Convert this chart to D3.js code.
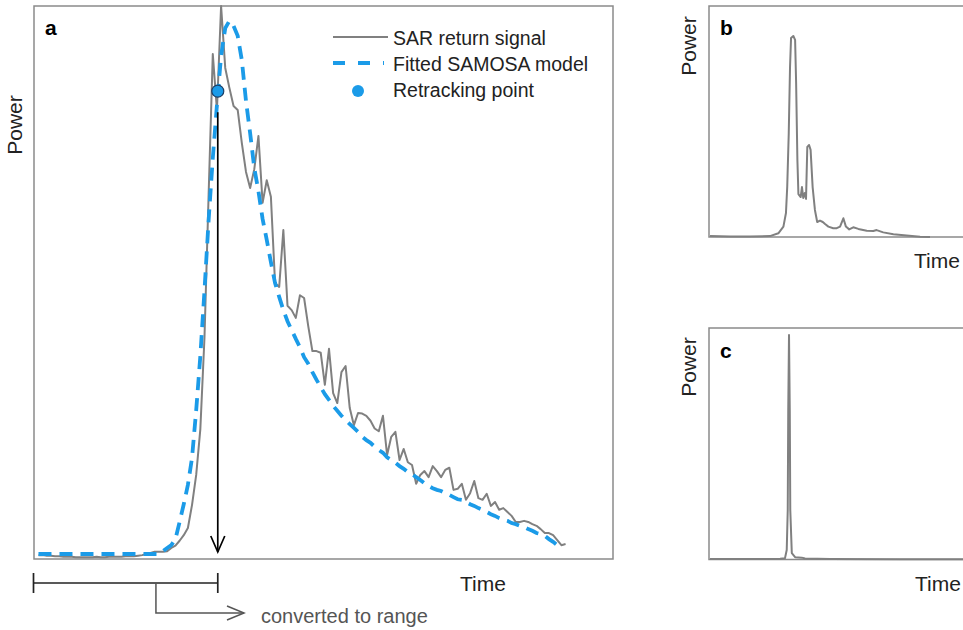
<!DOCTYPE html>
<html><head><meta charset="utf-8">
<script src="https://cdn.jsdelivr.net/npm/d3@7"></script>
<style>body{margin:0;background:#fff;} svg{display:block;font-family:"Liberation Sans",Arial,Helvetica,sans-serif;}</style>
</head><body><svg id="chart" width="963" height="630"></svg>
<script>
// ---------- Panel a: SAR waveform (128 range gates, normalised power) ----------
const sarGates = d3.range(128);
const sarPower = [
  0.007,0.007,0.006,0.006,0.005,0.005,0.004,0.004,0.004,0.003,
  0.003,0.003,0.003,0.003,0.004,0.003,0.003,0.004,0.004,0.004,
  0.004,0.005,0.005,0.005,0.006,0.007,0.009,0.011,0.013,0.013,
  0.013,0.014,0.020,0.024,0.033,0.043,0.056,0.098,0.152,0.235,
  0.401,0.660,0.913,0.812,1.000,0.888,0.852,0.819,0.812,0.752,
  0.700,0.671,0.705,0.765,0.644,0.685,0.655,0.499,0.492,0.595,
  0.458,0.450,0.436,0.477,0.472,0.421,0.376,0.376,0.373,0.315,
  0.380,0.300,0.282,0.338,0.349,0.273,0.242,0.264,0.263,0.259,
  0.250,0.236,0.231,0.259,0.188,0.221,0.230,0.179,0.199,0.175,
  0.170,0.136,0.152,0.159,0.148,0.168,0.159,0.148,0.161,0.165,
  0.125,0.127,0.136,0.107,0.119,0.141,0.110,0.107,0.118,0.096,
  0.103,0.089,0.092,0.085,0.078,0.067,0.067,0.069,0.067,0.063,
  0.060,0.054,0.047,0.047,0.043,0.034,0.025,0.027
];
const samosaGates = d3.range(126);
const samosaPower = [
  0.009,0.009,0.009,0.009,0.009,0.009,0.009,0.009,0.009,0.009,
  0.009,0.009,0.009,0.009,0.009,0.009,0.009,0.009,0.009,0.009,
  0.009,0.009,0.009,0.009,0.009,0.009,0.009,0.009,0.009,0.009,
  0.014,0.020,0.025,0.036,0.067,0.099,0.134,0.183,0.269,0.367,
  0.486,0.613,0.725,0.821,0.910,0.960,0.973,0.964,0.946,0.902,
  0.828,0.770,0.707,0.665,0.615,0.577,0.537,0.499,0.474,0.450,
  0.430,0.414,0.398,0.383,0.365,0.353,0.338,0.324,0.311,0.298,
  0.288,0.277,0.268,0.259,0.251,0.244,0.237,0.230,0.221,0.215,
  0.210,0.203,0.197,0.192,0.184,0.179,0.174,0.168,0.163,0.157,
  0.154,0.148,0.143,0.137,0.132,0.128,0.125,0.123,0.119,0.116,
  0.112,0.108,0.107,0.103,0.099,0.096,0.092,0.089,0.085,0.081,
  0.078,0.074,0.071,0.069,0.065,0.063,0.060,0.058,0.054,0.051,
  0.047,0.045,0.042,0.036,0.031,0.025
];
const retrackGate = 43.2;
const retrackPower = 0.846;
const arrowStartPower = 0.808;
const rangeElbowGate = 28.3;
const legendLabels = ["SAR return signal", "Fitted SAMOSA model", "Retracking point"];

// ---------- Panel b ----------
const bTime  = [0.4,8.3,16.1,24.0,27.3,29.3,30.3,30.8,31.4,31.9,32.3,33.2,33.9,34.3,34.8,35.2,36.1,36.6,37.1,37.7,38.2,38.7,39.4,40.0,40.8,41.7,42.6,43.7,44.8,45.7,47.0,48.9,50.3,51.6,52.9,53.9,55.2,56.8,58.8,62.1,64.7,66.0,68.6,72.6,77.8,83.1,87.0];
const bPower = [0.004,0.002,0.002,0.004,0.016,0.045,0.104,0.218,0.450,0.736,0.861,0.870,0.853,0.667,0.333,0.186,0.173,0.216,0.169,0.190,0.165,0.390,0.398,0.377,0.216,0.117,0.065,0.071,0.065,0.056,0.045,0.038,0.038,0.045,0.081,0.045,0.033,0.042,0.035,0.027,0.026,0.030,0.020,0.012,0.006,0.001,0.000];

// ---------- Panel c ----------
const cTime  = [0.4,20.1,28.0,29.9,30.6,31.0,31.2,31.5,31.8,32.0,32.6,33.9,36.5,37.8,47.6,75.2,100];
const cPower = [0.002,0.002,0.003,0.005,0.041,0.214,0.646,0.970,0.646,0.214,0.028,0.010,0.008,0.004,0.002,0.001,0.001];

const GREY = "#808080", BLUE = "#1b9be8", FRAME = "#8a8a8a";
const svg = d3.select("#chart");

// ---------- scales ----------
const xA = d3.scaleLinear().domain([-1.08, 138.43]).range([34, 613]);
const yA = d3.scaleLinear().domain([0, 1]).range([559, 6]);
const xB = d3.scaleLinear().domain([0, 100]).range([709, 963]);
const yB = d3.scaleLinear().domain([0, 1]).range([237, 6]);
const xC = d3.scaleLinear().domain([0, 100]).range([709, 963]);
const yC = d3.scaleLinear().domain([0, 1]).range([559.5, 328]);

// ---------- panel a ----------
svg.append("rect").attr("x", 34).attr("y", 6).attr("width", 579).attr("height", 553)
  .attr("fill", "none").attr("stroke", FRAME).attr("stroke-width", 1.5);

const lineA = d3.line().x(d => xA(d[0])).y(d => yA(d[1]));
svg.append("path").datum(d3.zip(sarGates, sarPower)).attr("d", lineA)
  .attr("fill", "none").attr("stroke", GREY).attr("stroke-width", 2).attr("stroke-linejoin", "round");
svg.append("path").datum(d3.zip(samosaGates, samosaPower)).attr("d", lineA)
  .attr("fill", "none").attr("stroke", BLUE).attr("stroke-width", 3.8).attr("stroke-dasharray", "13,8");

// retracking arrow
const rx = xA(retrackGate);
svg.append("line").attr("x1", rx).attr("x2", rx).attr("y1", yA(arrowStartPower)).attr("y2", 552)
  .attr("stroke", "#000").attr("stroke-width", 1.7);
svg.append("path").attr("d", `M${rx-7},536 L${rx},552 L${rx+7},536`)
  .attr("fill", "none").attr("stroke", "#000").attr("stroke-width", 1.7);
svg.append("circle").attr("cx", rx).attr("cy", yA(retrackPower)).attr("r", 6)
  .attr("fill", BLUE).attr("stroke", "#1d3f66").attr("stroke-width", 1.2);

// panel label
svg.append("text").attr("x", 45).attr("y", 35).attr("font-size", 21).attr("font-weight", "bold").text("a");

// legend
const lg = svg.append("g");
lg.append("line").attr("x1", 333).attr("x2", 388).attr("y1", 37).attr("y2", 37).attr("stroke", GREY).attr("stroke-width", 1.8);
lg.append("line").attr("x1", 333).attr("x2", 384).attr("y1", 63).attr("y2", 63).attr("stroke", BLUE).attr("stroke-width", 3.8).attr("stroke-dasharray", "12,13");
lg.append("circle").attr("cx", 358).attr("cy", 91).attr("r", 6).attr("fill", BLUE);
legendLabels.forEach((t, i) => {
  lg.append("text").attr("x", 393).attr("y", [44.5, 70.5, 97][i]).attr("font-size", 19.5).attr("fill", "#222").text(t);
});

// axis labels
svg.append("text").attr("transform", "translate(22,125) rotate(-90)").attr("text-anchor", "middle")
  .attr("font-size", 21).attr("fill", "#222").text("Power");
svg.append("text").attr("x", 483).attr("y", 591).attr("text-anchor", "middle").attr("font-size", 21).attr("fill", "#222").text("Time");

// range bar
svg.append("line").attr("x1", 33.5).attr("x2", rx).attr("y1", 583).attr("y2", 583).attr("stroke", "#222").attr("stroke-width", 1.7);
[33.5, rx].forEach(x => svg.append("line").attr("x1", x).attr("x2", x).attr("y1", 573).attr("y2", 593).attr("stroke", "#222").attr("stroke-width", 1.7));
const ex = xA(rangeElbowGate);
svg.append("path").attr("d", `M${ex},583 V613 H244`).attr("fill", "none").attr("stroke", "#555").attr("stroke-width", 1.5);
svg.append("path").attr("d", `M227,606 L244,613 L227,620`).attr("fill", "none").attr("stroke", "#555").attr("stroke-width", 1.5);
svg.append("text").attr("x", 261).attr("y", 623).attr("font-size", 20).attr("fill", "#555").text("converted to range");

// ---------- panel b ----------
svg.append("path").attr("d", "M963,6 H709 V237 H963").attr("fill", "none").attr("stroke", FRAME).attr("stroke-width", 1.5);
svg.append("path").datum(d3.zip(bTime, bPower)).attr("d", d3.line().x(d => xB(d[0])).y(d => yB(d[1])))
  .attr("fill", "none").attr("stroke", GREY).attr("stroke-width", 2).attr("stroke-linejoin", "round");
svg.append("text").attr("x", 720).attr("y", 35).attr("font-size", 21).attr("font-weight", "bold").text("b");
svg.append("text").attr("transform", "translate(696,46) rotate(-90)").attr("text-anchor", "middle")
  .attr("font-size", 21).attr("fill", "#222").text("Power");
svg.append("text").attr("x", 937).attr("y", 268).attr("text-anchor", "middle").attr("font-size", 21).attr("fill", "#222").text("Time");

// ---------- panel c ----------
svg.append("path").attr("d", "M963,328 H709 V559.5 H963").attr("fill", "none").attr("stroke", FRAME).attr("stroke-width", 1.5);
svg.append("path").datum(d3.zip(cTime, cPower)).attr("d", d3.line().x(d => xC(d[0])).y(d => yC(d[1])))
  .attr("fill", "none").attr("stroke", GREY).attr("stroke-width", 2).attr("stroke-linejoin", "round");
svg.append("text").attr("x", 720).attr("y", 358).attr("font-size", 21).attr("font-weight", "bold").text("c");
svg.append("text").attr("transform", "translate(696,367) rotate(-90)").attr("text-anchor", "middle")
  .attr("font-size", 21).attr("fill", "#222").text("Power");
svg.append("text").attr("x", 938).attr("y", 591).attr("text-anchor", "middle").attr("font-size", 21).attr("fill", "#222").text("Time");
</script>
</body></html>
